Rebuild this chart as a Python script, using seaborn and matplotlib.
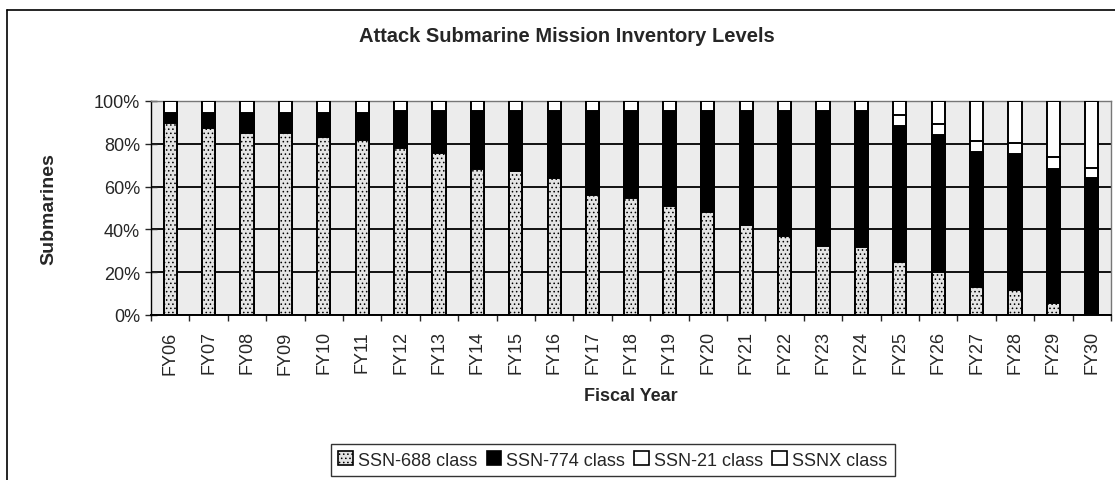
import numpy as np
import pandas as pd
import matplotlib
matplotlib.use("Agg")
import matplotlib.pyplot as plt
from matplotlib.patches import Patch
from matplotlib.lines import Line2D
from matplotlib.ticker import PercentFormatter
import seaborn as sns

# Data (share of the attack submarine inventory, percent)
years = ["FY%02d" % y for y in range(6, 31)]
ssn688 = [89.7, 87.4, 85.0, 85.0, 83.4, 81.8, 77.9, 75.8, 68.4, 67.1, 64.0, 56.1, 54.5,
          51.0, 48.3, 41.9, 36.8, 32.1, 31.8, 25.0, 20.2, 13.1, 11.5, 5.5, 0.0]
ssn774 = [4.8, 7.1, 9.5, 9.5, 11.1, 12.7, 17.4, 19.5, 26.9, 28.2, 31.3, 39.2, 40.8,
          44.3, 47.0, 53.4, 58.5, 63.2, 63.5, 63.4, 64.0, 63.2, 63.7, 62.9, 64.0]
ssn21 = [5.5, 5.5, 5.5, 5.5, 5.5, 5.5, 4.7, 4.7, 4.7, 4.7, 4.7, 4.7, 4.7,
         4.7, 4.7, 4.7, 4.7, 4.7, 4.7, 4.9, 5.1, 5.1, 5.1, 5.2, 4.6]
ssnx = [0, 0, 0, 0, 0, 0, 0, 0, 0, 0, 0, 0, 0,
        0, 0, 0, 0, 0, 0, 6.7, 10.7, 18.6, 19.7, 26.4, 31.4]
classes = ["SSN-688 class", "SSN-774 class", "SSN-21 class", "SSNX class"]

df = pd.DataFrame({"year": years, "SSN-688 class": ssn688, "SSN-774 class": ssn774,
                   "SSN-21 class": ssn21, "SSNX class": ssnx})
cum = df[classes].cumsum(axis=1)
cum["year"] = df["year"]

sns.set_theme(style="white")
plt.rcParams["font.family"] = ["Liberation Sans", "DejaVu Sans"]
plt.rcParams["hatch.color"] = "#555555"
plt.rcParams["hatch.linewidth"] = 0.6

fig = plt.figure(figsize=(11.15, 4.81), dpi=100)
ax = fig.add_axes([151 / 1115, 1 - 316 / 481, 960 / 1115, 214 / 481])
ax.set_facecolor("#ececec")

# stacked bars: draw the cumulative totals from the top layer down
styles = {
    "SSNX class": dict(color="white"),
    "SSN-21 class": dict(color="white"),
    "SSN-774 class": dict(color="black"),
    "SSN-688 class": dict(color="#e4e4e4", hatch="...."),
}
for c in classes[::-1]:
    sns.barplot(data=cum, x="year", y=c, ax=ax, width=0.34, saturation=1,
                edgecolor="black", linewidth=1.4, zorder=3, **styles[c])

ax.set_ylim(0, 100)
ax.set_xlim(-0.5, len(years) - 0.5)
ax.set_yticks(range(0, 101, 20))
ax.yaxis.set_major_formatter(PercentFormatter(decimals=0))
ax.grid(axis="y", color="black", linewidth=1.3, zorder=0)
ax.set_axisbelow(True)
for s in ax.spines.values():
    s.set_color("#777777")
    s.set_linewidth(1.0)
ax.spines["left"].set_color("black")
ax.spines["bottom"].set_color("black")
ax.spines["bottom"].set_linewidth(1.4)

ax.tick_params(axis="y", left=True, direction="inout", length=8, width=1, labelsize=13, pad=4)
ax.set_xticks(range(len(years)))
ax.set_xticklabels(years, rotation=90, fontsize=13)
ax.tick_params(axis="x", which="major", bottom=False, length=0, pad=11)
ax.set_xticks(np.arange(-0.5, len(years)), minor=True)
ax.tick_params(axis="x", which="minor", bottom=True, direction="out", length=4, width=1)

ax.set_xlabel("Fiscal Year", fontsize=13, fontweight="bold", labelpad=10)
ax.set_ylabel("Submarines", fontsize=14, fontweight="bold", labelpad=26)
fig.text(567 / 1115, 1 - 37 / 481, "Attack Submarine Mission Inventory Levels",
         ha="center", va="center", fontsize=14.5, fontweight="bold")

handles = [
    Patch(facecolor="#e4e4e4", edgecolor="black", hatch="....", linewidth=1.2),
    Patch(facecolor="black", edgecolor="black", linewidth=1.2),
    Patch(facecolor="white", edgecolor="black", linewidth=1.2),
    Patch(facecolor="white", edgecolor="black", linewidth=1.2),
]
leg = fig.legend(handles, classes, loc="center", bbox_to_anchor=(613 / 1115, 1 - 461 / 481),
                 ncol=4, fontsize=13, frameon=True, fancybox=False, edgecolor="black",
                 handlelength=0.8, handleheight=0.8, handletextpad=0.3,
                 columnspacing=0.5, borderpad=0.4, borderaxespad=0)
leg.get_frame().set_linewidth(1.0)

# outer chart border (cut off at right and bottom)
fig.add_artist(Line2D([7 / 1115, 7 / 1115], [0, 1 - 11 / 481], transform=fig.transFigure,
                      color="black", linewidth=1.2))
fig.add_artist(Line2D([7 / 1115, 1], [1 - 11 / 481, 1 - 11 / 481], transform=fig.transFigure,
                      color="black", linewidth=1.2))

fig.savefig("out.png", dpi=100)
